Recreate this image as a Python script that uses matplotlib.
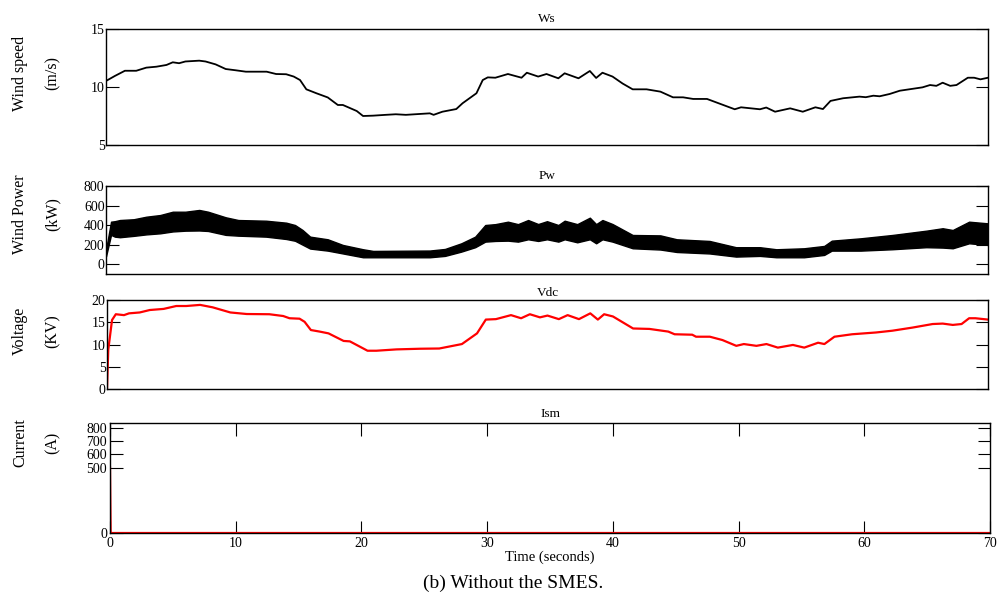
import matplotlib
matplotlib.use("Agg")
import matplotlib.pyplot as plt
import numpy as np

plt.rcParams['font.family'] = ['Liberation Serif', 'DejaVu Serif']

# wind speed (m/s)
ws_t = [0, 0.7, 1.5, 2.4, 3.2, 4.0, 4.8, 5.3, 5.8, 6.3, 7.4, 7.9, 8.7, 9.5, 10.3, 11.1,
        12.75, 13.5, 14.3, 14.9, 15.4, 15.9, 16.7, 17.6, 18.4, 18.8, 19.9, 20.4, 21.2,
        22.2, 23.0, 23.8, 25.7, 26.0, 26.7, 27.8, 28.3, 29.4, 29.9, 30.3, 30.9, 31.9,
        32.98, 33.4, 34.3, 34.96, 35.9, 36.4, 37.5, 38.4, 38.9, 39.4, 40.2, 41.0, 41.8,
        42.9, 44.0, 45.0, 45.8, 46.6, 47.7, 49.9, 50.4, 51.9, 52.4, 53.1, 54.3, 55.3,
        56.3, 56.9, 57.5, 58.5, 59.8, 60.3, 60.9, 61.4, 62.2, 63.0, 64.8, 65.4, 65.9,
        66.4, 67.0, 67.5, 68.4, 68.9, 69.4, 70.0]
ws = [10.52, 10.95, 11.4, 11.4, 11.67, 11.75, 11.9, 12.13, 12.05, 12.2, 12.27, 12.2,
      11.95, 11.55, 11.44, 11.32, 11.32, 11.12, 11.1, 10.9, 10.6, 9.8, 9.46, 9.1, 8.45,
      8.45, 7.93, 7.5, 7.53, 7.6, 7.65, 7.6, 7.73, 7.6, 7.87, 8.1, 8.6, 9.46, 10.6,
      10.83, 10.8, 11.12, 10.8, 11.23, 10.9, 11.12, 10.75, 11.18, 10.75, 11.38, 10.78,
      11.23, 10.9, 10.3, 9.8, 9.8, 9.6, 9.11, 9.11, 8.97, 8.97, 8.08, 8.25, 8.08, 8.23,
      7.87, 8.16, 7.87, 8.25, 8.1, 8.8, 9.03, 9.17, 9.12, 9.25, 9.2, 9.4, 9.68, 9.97,
      10.17, 10.1, 10.37, 10.1, 10.17, 10.8, 10.8, 10.66, 10.8]

# wind power envelope (kW)
pw_t = [0, 0.4, 0.7, 1.1, 2.2, 3.2, 4.3, 5.3, 6.3, 7.4, 8.1, 9.5, 10.5, 12.7, 14.3, 15.0,
        15.6, 16.2, 17.6, 18.8, 20.4, 21.2, 25.7, 26.9, 28.2, 29.3, 30.1, 30.9, 31.9,
        32.7, 33.5, 34.3, 35.0, 35.9, 36.4, 37.4, 38.4, 38.9, 39.4, 40.2, 41.8, 44.0,
        45.3, 47.9, 50.0, 51.9, 53.2, 55.4, 57.0, 57.6, 59.9, 62.4, 65.1, 66.4, 67.2,
        68.5, 70.0]
pw_hi = [150, 435, 440, 452, 460, 486, 503, 537, 537, 555, 537, 480, 452, 445, 425, 401,
         350, 282, 255, 197, 153, 136, 140, 156, 214, 282, 401, 410, 435, 410, 452, 411,
         440, 401, 445, 410, 476, 410, 452, 411, 299, 295, 255, 238, 174, 174, 153, 163,
         187, 241, 265, 299, 343, 368, 350, 435, 418]
pw_lo = [80, 300, 282, 276, 290, 305, 316, 335, 343, 345, 340, 300, 292, 282, 258, 240,
         200, 160, 139, 110, 71, 71, 71, 85, 129, 174, 231, 238, 241, 231, 255, 238, 255,
         231, 255, 224, 255, 214, 255, 231, 163, 150, 125, 110, 78, 85, 71, 71, 95, 139,
         139, 153, 174, 170, 163, 214, 197]

# dc voltage (kV)
vdc_t = [0, 0.1, 0.4, 0.7, 1.35, 1.75, 2.6, 3.4, 4.5, 5.5, 6.3, 7.4, 8.4, 9.8, 11.1,
         12.9, 14.0, 14.5, 15.3, 15.7, 16.2, 16.9, 17.6, 18.8, 19.3, 20.7, 21.4, 23.0,
         24.9, 26.4, 28.2, 29.4, 30.1, 30.9, 32.1, 32.9, 33.6, 34.4, 35.0, 35.9, 36.6,
         37.5, 38.4, 39.0, 39.5, 40.2, 41.8, 43.1, 44.6, 45.1, 46.5, 46.8, 47.9, 48.9,
         50.0, 50.6, 51.6, 52.4, 53.3, 54.5, 55.4, 56.5, 57.0, 57.8, 59.2, 61.1, 62.4,
         64.0, 65.6, 66.4, 67.2, 67.9, 68.5, 69.0, 70.0]
vdc = [0, 8.8, 15.5, 16.8, 16.6, 17.0, 17.2, 17.75, 18.0, 18.65, 18.65, 18.9, 18.35,
       17.2, 16.85, 16.8, 16.4, 15.9, 15.8, 15.1, 13.25, 12.9, 12.5, 10.8, 10.7, 8.6, 8.6,
       8.9, 9.05, 9.1, 10.1, 12.5, 15.6, 15.7, 16.6, 15.9, 16.8, 16.1, 16.5, 15.7, 16.6,
       15.7, 17.0, 15.6, 16.8, 16.3, 13.6, 13.5, 12.9, 12.3, 12.2, 11.75, 11.75, 11.0,
       9.7, 10.1, 9.7, 10.1, 9.3, 9.9, 9.3, 10.4, 10.1, 11.75, 12.3, 12.7, 13.1, 13.8,
       14.6, 14.7, 14.4, 14.6, 15.9, 15.9, 15.6]

# SMES current (A)
ism_t = [0, 0.05, 70]
ism = [500, 0, 0]

W, H = 997, 597
fig = plt.figure(figsize=(W / 100, H / 100), dpi=100)


def box(l, t, r, b):
    return [l / W, 1 - b / H, (r - l) / W, (b - t) / H]


ax1 = fig.add_axes(box(106, 29, 988, 145))
ax2 = fig.add_axes(box(106, 186, 988, 274))
ax3 = fig.add_axes(box(107, 300, 988, 389))
ax4 = fig.add_axes(box(110, 423, 990, 533))

ax1.plot(ws_t, ws, color='black', lw=1.3)
ax1.set_ylim(5, 15)
ax1.set_yticks([5, 10, 15])
ax1.set_title('Ws', fontsize=9.5, pad=5)

ax2.fill_between(pw_t, pw_lo, pw_hi, color='black', lw=1.0, edgecolor='black')
ax2.set_ylim(-100, 800)
ax2.set_yticks([0, 200, 400, 600, 800])
ax2.set_title('Pw', fontsize=9.5, pad=5)

ax3.plot(vdc_t, vdc, color='red', lw=1.6)
ax3.set_ylim(0, 20)
ax3.set_yticks([0, 5, 10, 15, 20])
ax3.set_title('Vdc', fontsize=9.5, pad=3)

ax4.plot(ism_t, ism, color='red', lw=1.6)
ax4.set_ylim(0, 840)
ax4.set_yticks([0, 500, 600, 700, 800])
ax4.set_xticks(range(0, 71, 10))
ax4.set_title('Ism', fontsize=9.5, pad=4)
ax4.set_xlabel('Time (seconds)', fontsize=10.5, labelpad=0)

for ax in (ax1, ax2, ax3, ax4):
    ax.set_xlim(0, 70)
    ax.tick_params(direction='in', length=9, width=0.8, right=True, top=True,
                   labelsize=10, pad=1)
    for s in ax.spines.values():
        s.set_linewidth(1.0)
for ax in (ax1, ax2, ax3):
    ax.set_xticks([])
ax4.tick_params(axis='x', pad=3)
ax4.tick_params(axis='y', pad=2)

labels = [("Wind speed", "(m/s)", 73), ("Wind Power", "(kW)", 214),
          ("Voltage", "(KV)", 331), ("Current", "(A)", 443)]
for a, b, yc in labels:
    fig.text(20 / W, 1 - yc / H, a, rotation=90, ha='center', va='center', fontsize=11.5)
    fig.text(53 / W, 1 - yc / H, b, rotation=90, ha='center', va='center', fontsize=11.5)

fig.text(513 / W, 1 - 583 / H, '(b) Without the SMES.', ha='center', va='center',
         fontsize=14)

fig.savefig('out.png', dpi=100)
